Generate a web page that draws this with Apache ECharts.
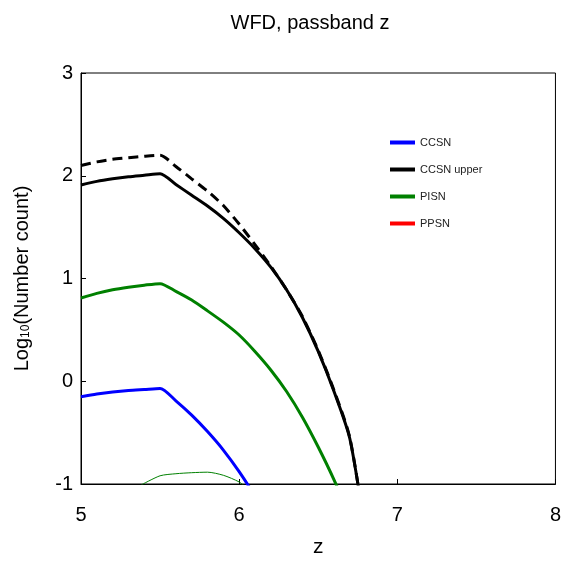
<!DOCTYPE html>
<html>
<head>
<meta charset="utf-8">
<script src="https://cdn.jsdelivr.net/npm/echarts@6/dist/echarts.min.js"></script>
<style>html,body{margin:0;padding:0;background:#fff;}#c{width:564px;height:564px;}</style>
</head>
<body>
<div id="c"></div>
<script>
// ---- data ----
const zGrid      = [5.0, 5.1, 5.2, 5.3, 5.4, 5.5, 5.6, 5.7, 5.8, 5.9, 6.0, 6.1, 6.2, 6.3, 6.4, 6.5, 6.6, 6.7, 6.8];
const ccsn       = [-0.15, -0.125, -0.105, -0.09, -0.08, -0.07, -0.19, -0.33, -0.49, -0.67, -0.88, -1.12, -1.4, -1.72, -2.1, -2.55, -3.1, -3.7, -4.4];
const ccsnUpper  = [1.91, 1.945, 1.97, 1.99, 2.005, 2.02, 1.915, 1.81, 1.705, 1.585, 1.445, 1.29, 1.11, 0.89, 0.62, 0.29, -0.10, -0.56, -1.5];
const ccsnUpperD = [2.10, 2.135, 2.16, 2.175, 2.19, 2.20, 2.09, 1.97, 1.85, 1.71, 1.53, 1.33, 1.12, 0.89, 0.63, 0.30, -0.09, -0.55, -1.5];
const pisn       = [0.81, 0.855, 0.89, 0.915, 0.935, 0.95, 0.875, 0.79, 0.685, 0.575, 0.45, 0.29, 0.11, -0.10, -0.35, -0.64, -0.96, -1.32, -1.75];
const pisnLowZ   = [5.38, 5.5, 5.6, 5.7, 5.8, 5.9, 6.0, 6.05];
const pisnLow    = [-1.01, -0.92, -0.90, -0.89, -0.885, -0.915, -0.98, -1.04];
const ppsn       = [];
const legendNames = ['CCSN', 'CCSN upper', 'PISN', 'PPSN'];
const xTicks = [5, 6, 7, 8];
const yTicks = [-1, 0, 1, 2, 3];

const pair = (xs, ys) => xs.map((x, i) => [x, ys[i]]);
const FONT = "'Liberation Sans', Arial, sans-serif";
const SM = 0.25;

const chart = echarts.init(document.getElementById('c'), null, {renderer: 'canvas'});
chart.setOption({
  animation: false,
  backgroundColor: '#fff',
  title: {
    text: 'WFD, passband z',
    left: 305, top: 8, textAlign: 'center',
    textStyle: {fontFamily: FONT, fontSize: 20, fontWeight: 'normal', color: '#000'}
  },
  legend: {
    orient: 'vertical', left: 385, top: 131,
    itemWidth: 25, itemHeight: 4, itemGap: 14,
    textStyle: {fontFamily: FONT, fontSize: 11, color: '#222', lineHeight: 13},
    data: [
      {name: legendNames[0], icon: 'rect', itemStyle: {color: '#0000ff'}},
      {name: legendNames[1], icon: 'rect', itemStyle: {color: '#000000'}},
      {name: legendNames[2], icon: 'rect', itemStyle: {color: '#008000'}},
      {name: legendNames[3], icon: 'rect', itemStyle: {color: '#ff0000'}}
    ]
  },
  grid: {left: 81, right: 7, top: 73, bottom: 80, show: true, borderColor: '#000', borderWidth: 1, containLabel: false},
  xAxis: {
    type: 'value', min: xTicks[0], max: xTicks[xTicks.length - 1], interval: 1,
    name: 'z', nameLocation: 'middle', nameGap: 53,
    nameTextStyle: {fontFamily: FONT, fontSize: 21, color: '#000'},
    axisLine: {show: true, onZero: false, lineStyle: {color: '#000', width: 1}},
    axisTick: {show: true, inside: true, length: 5, lineStyle: {color: '#000'}},
    axisLabel: {fontFamily: FONT, fontSize: 20, color: '#000', margin: 21},
    splitLine: {show: false}
  },
  yAxis: {
    type: 'value', min: yTicks[0], max: yTicks[yTicks.length - 1], interval: 1,
    name: '{a|Log}{s|10}{a|(Number count)}', nameLocation: 'middle', nameGap: 49,
    nameTextStyle: {
      fontFamily: FONT, fontSize: 20, color: '#000',
      rich: {
        a: {fontFamily: FONT, fontSize: 20, color: '#000'},
        s: {fontFamily: FONT, fontSize: 12, color: '#000', verticalAlign: 'bottom', padding: [8, 0, 0, 0]}
      }
    },
    axisLine: {show: true, onZero: false, lineStyle: {color: '#000', width: 1}},
    axisTick: {show: true, inside: true, length: 5, lineStyle: {color: '#000'}},
    axisLabel: {fontFamily: FONT, fontSize: 20, color: '#000', margin: 8},
    splitLine: {show: false}
  },
  series: [
    {name: 'CCSN', type: 'line', data: pair(zGrid, ccsn), showSymbol: false, smooth: SM, lineStyle: {color: '#0000ff', width: 3}, itemStyle: {color: '#0000ff'}, z: 3},
    {name: 'CCSN upper', type: 'line', data: pair(zGrid, ccsnUpper), showSymbol: false, smooth: SM, lineStyle: {color: '#000', width: 3}, itemStyle: {color: '#000'}, z: 3},
    {name: 'CCSN upper', type: 'line', data: pair(zGrid, ccsnUpperD), showSymbol: false, smooth: SM, lineStyle: {color: '#000', width: 3, type: [10, 6]}, itemStyle: {color: '#000'}, z: 3},
    {name: 'PISN', type: 'line', data: pair(zGrid, pisn), showSymbol: false, smooth: SM, lineStyle: {color: '#008000', width: 3}, itemStyle: {color: '#008000'}, z: 3},
    {name: 'PISN lower', type: 'line', data: pair(pisnLowZ, pisnLow), showSymbol: false, smooth: SM, lineStyle: {color: '#008000', width: 1}, itemStyle: {color: '#008000'}, z: 3},
    {name: 'PPSN', type: 'line', data: ppsn, showSymbol: false, lineStyle: {color: '#ff0000', width: 3}, itemStyle: {color: '#ff0000'}}
  ]
});
</script>
</body>
</html>
